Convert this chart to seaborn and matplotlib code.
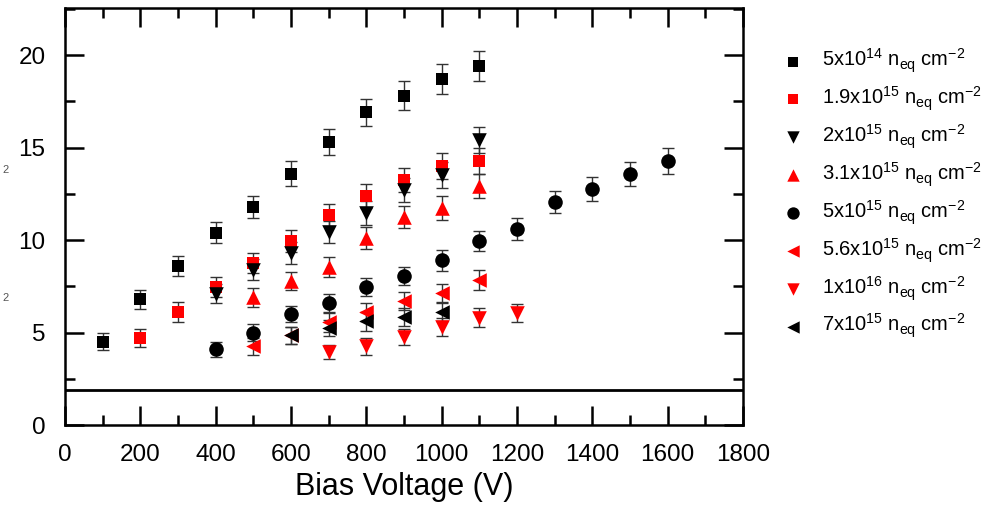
import numpy as np
import pandas as pd
import matplotlib
matplotlib.use("Agg")
import matplotlib.pyplot as plt
import seaborn as sns
from matplotlib.ticker import MultipleLocator

# ---- data ----
labels = [
    "5x10$^{14}$ n$_{eq}$ cm$^{-2}$",
    "1.9x10$^{15}$ n$_{eq}$ cm$^{-2}$",
    "2x10$^{15}$ n$_{eq}$ cm$^{-2}$",
    "3.1x10$^{15}$ n$_{eq}$ cm$^{-2}$",
    "5x10$^{15}$ n$_{eq}$ cm$^{-2}$",
    "5.6x10$^{15}$ n$_{eq}$ cm$^{-2}$",
    "1x10$^{16}$ n$_{eq}$ cm$^{-2}$",
    "7x10$^{15}$ n$_{eq}$ cm$^{-2}$",
]

x_5e14 = [100, 200, 300, 400, 500, 600, 700, 800, 900, 1000, 1100]
y_5e14 = [4.5, 6.8, 8.6, 10.4, 11.8, 13.6, 15.3, 16.9, 17.8, 18.7, 19.4]
e_5e14 = [0.47, 0.52, 0.55, 0.58, 0.6, 0.65, 0.72, 0.75, 0.78, 0.8, 0.8]

x_19e15 = [200, 300, 400, 500, 600, 700, 800, 900, 1000, 1100]
y_19e15 = [4.7, 6.1, 7.45, 8.75, 9.95, 11.35, 12.4, 13.25, 14.0, 14.3]
e_19e15 = [0.5, 0.55, 0.55, 0.55, 0.6, 0.6, 0.65, 0.65, 0.7, 0.7]

x_2e15 = [400, 500, 600, 700, 800, 900, 1000, 1100]
y_2e15 = [7.1, 8.4, 9.3, 10.45, 11.45, 12.7, 13.5, 15.4]
e_2e15 = [0.5, 0.55, 0.6, 0.6, 0.65, 0.65, 0.7, 0.7]

x_31e15 = [500, 600, 700, 800, 900, 1000, 1100]
y_31e15 = [6.9, 7.8, 8.55, 10.1, 11.25, 11.75, 12.9]
e_31e15 = [0.5, 0.5, 0.55, 0.6, 0.6, 0.65, 0.65]

x_5e15 = [400, 500, 600, 700, 800, 900, 1000, 1100, 1200, 1300, 1400, 1500, 1600]
y_5e15 = [4.1, 5.0, 6.0, 6.6, 7.45, 8.05, 8.9, 9.95, 10.6, 12.05, 12.75, 13.55, 14.3]
e_5e15 = [0.4, 0.45, 0.45, 0.5, 0.5, 0.5, 0.55, 0.55, 0.6, 0.6, 0.65, 0.65, 0.7]

x_56e15 = [500, 600, 700, 800, 900, 1000, 1100]
y_56e15 = [4.25, 4.85, 5.55, 6.1, 6.7, 7.15, 7.85]
e_56e15 = [0.45, 0.45, 0.5, 0.5, 0.5, 0.5, 0.55]

x_1e16 = [700, 800, 900, 1000, 1100, 1200]
y_1e16 = [3.95, 4.25, 4.75, 5.3, 5.8, 6.05]
e_1e16 = [0.4, 0.45, 0.45, 0.5, 0.5, 0.5]

x_7e15 = [600, 700, 800, 900, 1000]
y_7e15 = [4.85, 5.25, 5.6, 5.85, 6.1]
e_7e15 = [0.45, 0.45, 0.5, 0.5, 0.5]

series = [
    (x_5e14, y_5e14, e_5e14, "s", "black"),
    (x_19e15, y_19e15, e_19e15, "s", "red"),
    (x_2e15, y_2e15, e_2e15, "v", "black"),
    (x_31e15, y_31e15, e_31e15, "^", "red"),
    (x_5e15, y_5e15, e_5e15, "o", "black"),
    (x_56e15, y_56e15, e_56e15, "<", "red"),
    (x_1e16, y_1e16, e_1e16, "v", "red"),
    (x_7e15, y_7e15, e_7e15, "<", "black"),
]

threshold = 1.9
x_ticks = [0, 200, 400, 600, 800, 1000, 1200, 1400, 1600, 1800]
y_ticks = [0, 5, 10, 15, 20]

# ---- style ----
sns.set_theme(style="ticks")
plt.rcParams["font.family"] = ["Liberation Sans", "DejaVu Sans"]
plt.rcParams["mathtext.fontset"] = "custom"
plt.rcParams["mathtext.rm"] = "Liberation Sans"
plt.rcParams["mathtext.it"] = "Liberation Sans"
plt.rcParams["mathtext.bf"] = "Liberation Sans"
plt.rcParams["text.color"] = "black"
plt.rcParams["axes.labelcolor"] = "black"
plt.rcParams["xtick.color"] = "black"
plt.rcParams["ytick.color"] = "black"

fig = plt.figure(figsize=(9.87, 5.09), dpi=100)
ax = fig.add_axes([65 / 987, 1 - 425 / 509, (743 - 65) / 987, (425 - 8) / 509])

for i, (xs, ys, es, mk, col) in enumerate(series):
    ax.errorbar(xs, ys, yerr=es, fmt="none", ecolor="#333333", elinewidth=1.0,
                capsize=4, capthick=1.0, zorder=2 + i * 0.1)
    df = pd.DataFrame({"x": xs, "y": ys})
    sz = 85 if mk == "s" else 110
    sns.scatterplot(data=df, x="x", y="y", marker=mk, color=col, s=sz,
                    linewidth=0, label=labels[i], ax=ax, zorder=3 + i * 0.1)

ax.axhline(threshold, color="black", lw=2.0, zorder=1)

ax.set_xlim(0, 1800)
ax.set_ylim(0, 22.55)
ax.set_xticks(x_ticks)
ax.set_yticks(y_ticks)
ax.xaxis.set_minor_locator(MultipleLocator(100))
ax.yaxis.set_minor_locator(MultipleLocator(2.5))
ax.tick_params(which="both", direction="in", top=True, right=True, width=1.8,
               color="black", labelcolor="black")
ax.tick_params(which="major", length=14, labelsize=17.5, pad=14)
ax.tick_params(which="minor", length=7)
ax.tick_params(axis="y", which="both", right=True, labelright=False)
for s in ax.spines.values():
    s.set_linewidth(1.8)
    s.set_color("black")
ax.set_xlabel("Bias Voltage (V)", fontsize=22, labelpad=4, color="black")
ax.set_ylabel("")

leg = ax.legend(loc="upper left", bbox_to_anchor=(784 / 987, 1 - 47 / 509),
                bbox_transform=fig.transFigure, frameon=False, fontsize=14.5,
                markerscale=0.85, handlelength=0.9, handletextpad=1.0,
                labelspacing=0.47, borderpad=0, borderaxespad=0)
for t in leg.get_texts():
    t.set_color("black")

fig.text(2 / 987, 1 - 170 / 509, "2", fontsize=8, color="#555555", va="center")
fig.text(2 / 987, 1 - 298 / 509, "2", fontsize=8, color="#555555", va="center")

fig.savefig("out.png", dpi=100)
